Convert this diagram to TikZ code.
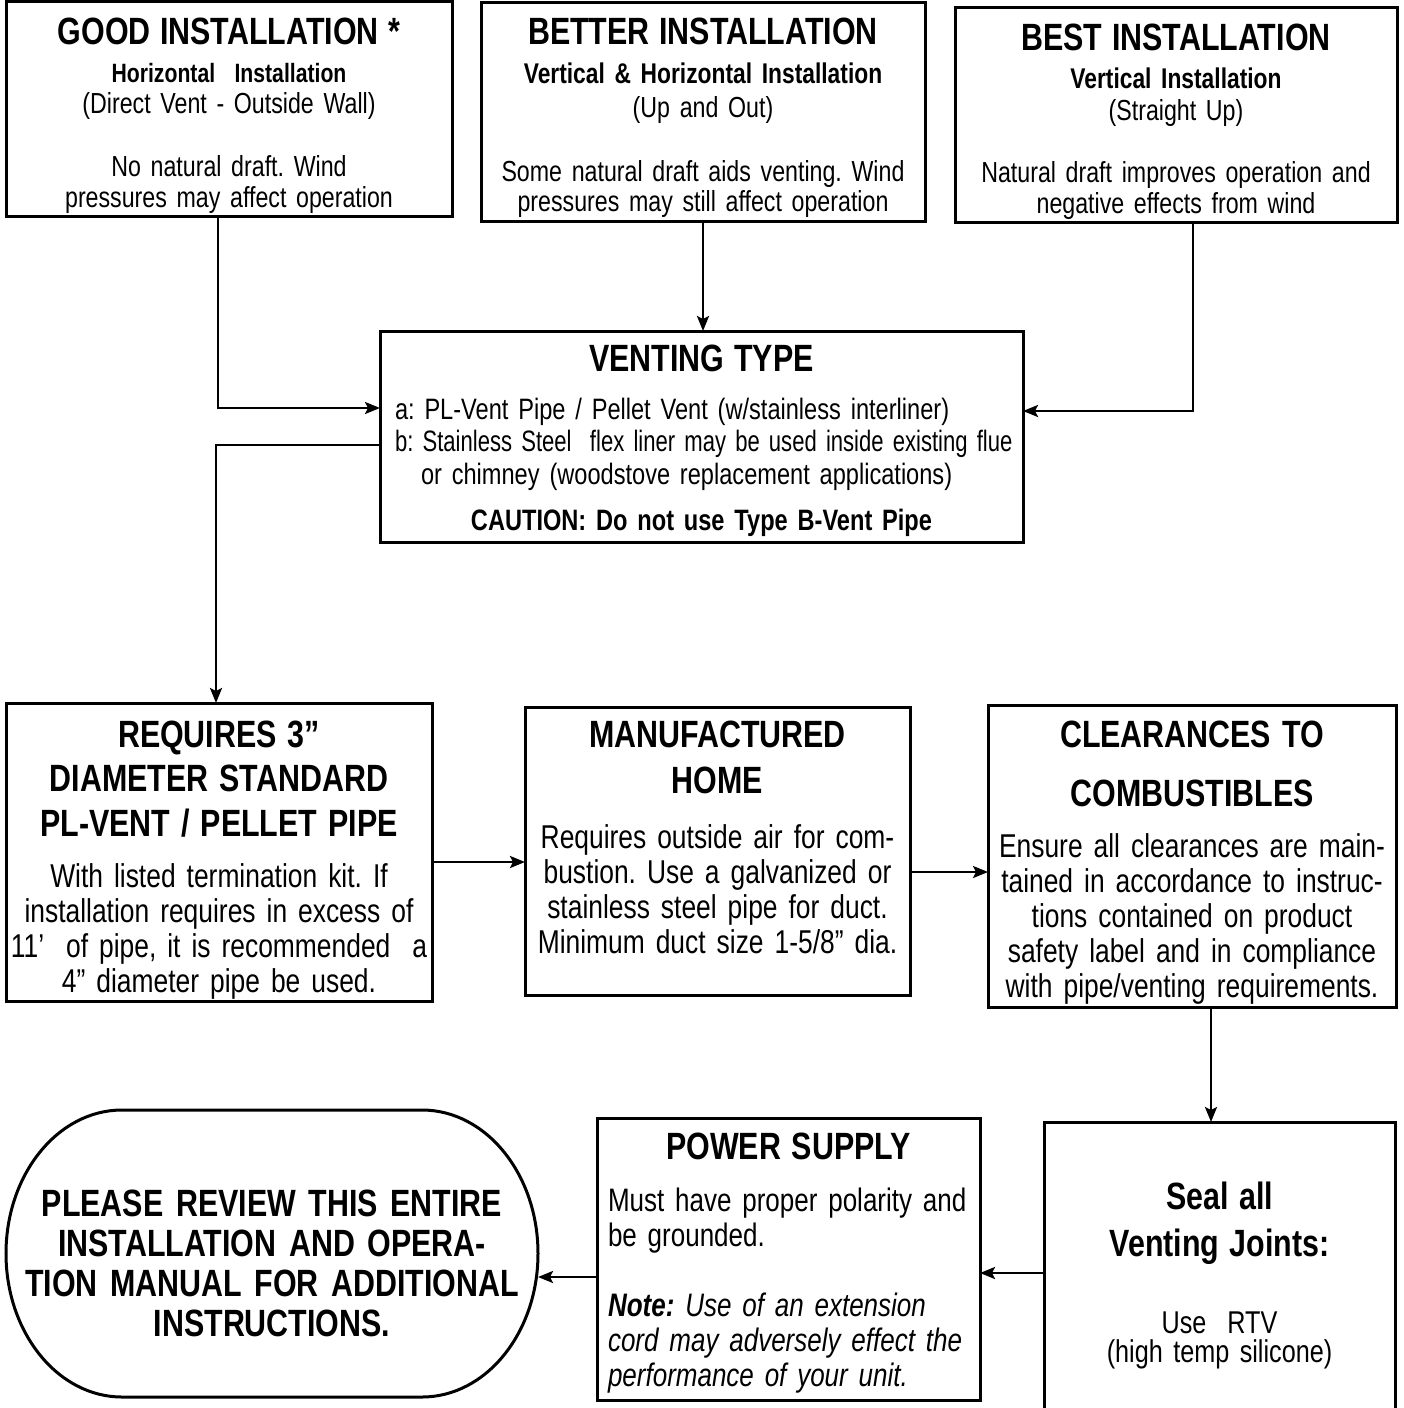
\documentclass[tikz,border=0pt]{standalone}
\usepackage{fontspec}
\setmainfont{Liberation Sans}[FakeStretch=0.8]
\usetikzlibrary{arrows.meta}
\frenchspacing
\newcommand\boxtitle{\fontsize{38}{40}\selectfont\bfseries}
\newcommand\boxsub{\fontsize{28.5}{31}\selectfont\bfseries}
\newcommand\bodyA{\fontsize{29}{31}\selectfont}
\newcommand\bodyB{\fontsize{33}{35}\selectfont}
\newcommand\midline[1]{\makebox[\hsize]{#1}}

\begin{document}
\begin{tikzpicture}[x=1pt,y=-1pt,
  box/.style={draw,line width=3pt,inner sep=0pt,outer sep=0pt,anchor=north west,align=center},
  flow/.style={line width=2.5pt,-{Stealth[length=15pt,width=12pt,inset=3pt]}}]
  \useasboundingbox (0,0) rectangle (1403,1408);

  % top row
  \node[box,text width=446pt,text height=43pt,text depth=172pt,font=\bodyA] (good) at (6,1) {%
    {\boxtitle GOOD INSTALLATION *}\\[7pt]
    {\fontsize{26.5}{31}\selectfont\bfseries Horizontal~ Installation}\\[1pt]
    (Direct Vent - Outside Wall)\\[31pt]
    No natural draft. Wind\\
    pressures may affect operation};

  \node[box,text width=444pt,text height=42pt,text depth=177pt,font=\bodyA] (better) at (481,2) {%
    {\boxtitle BETTER INSTALLATION}\\[8pt]
    {\boxsub Vertical \& Horizontal Installation}\\[3pt]
    (Up and Out)\\[33pt]
    Some natural draft aids venting. Wind\\
    pressures may still affect operation};

  \node[box,text width=442pt,text height=43pt,text depth=172pt,font=\bodyA] (best) at (955,7) {%
    {\boxtitle BEST INSTALLATION}\\[7pt]
    {\boxsub Vertical Installation}\\[1pt]
    (Straight Up)\\[31pt]
    Natural draft improves operation and\\
    negative effects from wind};

  % venting type
  \node[box,align=left,text width=643pt,text height=40pt,text depth=171pt,font=\fontsize{29.5}{32.5}\selectfont] (vent) at (380,331) {%
    \midline{\boxtitle VENTING TYPE}\\[15.5pt]
    \hspace*{15pt}\mbox{a: PL-Vent Pipe / Pellet Vent (w/stainless interliner)}\\
    \hspace*{15pt}\scalebox{0.935}[1]{b: Stainless Steel~ flex liner may be used inside existing flue}\\
    \hspace*{41pt}\mbox{or chimney (woodstove replacement applications)}\\[14pt]
    \midline{\bfseries CAUTION: Do not use Type B-Vent Pipe}};

  % middle row
  \node[box,text width=426pt,text height=44pt,text depth=254pt,font=\bodyB] (req) at (6,703) {%
    {\boxtitle REQUIRES 3”}\\[9pt]
    {\boxtitle DIAMETER STANDARD}\\[10pt]
    {\boxtitle PL-VENT / PELLET PIPE}\\[16pt]
    With listed termination kit. If\\
    installation requires in excess of\\
    11’~ of pipe, it is recommended~ a\\
    4” diameter pipe be used.};

  \node[box,text width=385pt,text height=40pt,text depth=248pt,font=\bodyB] (man) at (525,707) {%
    {\boxtitle MANUFACTURED}\\[11pt]
    {\boxtitle HOME}\\[20pt]
    Requires outside air for com-\\
    bustion. Use a galvanized or\\
    stainless steel pipe for duct.\\
    Minimum duct size 1-5/8” dia.};

  \node[box,text width=408pt,text height=42pt,text depth=260pt,font=\bodyB] (clr) at (988,705) {%
    {\boxtitle CLEARANCES TO}\\[24pt]
    {\boxtitle COMBUSTIBLES}\\[16pt]
    Ensure all clearances are main-\\
    tained in accordance to instruc-\\
    tions contained on product\\
    safety label and in compliance\\
    with pipe/venting requirements.};

  % bottom row
  \node[box,text width=351pt,text height=87pt,text depth=221pt,font=\fontsize{31.5}{29}\selectfont] (seal) at (1044,1122) {%
    {\boxtitle Seal all}\\[18pt]
    {\boxtitle Venting Joints:}\\[47pt]
    Use~ RTV\\
    (high temp silicone)};

  \node[box,align=left,text width=361pt,inner xsep=11pt,text height=41pt,text depth=241pt,font=\fontsize{32.5}{35}\selectfont] (power) at (597,1118) {%
    \midline{\boxtitle POWER SUPPLY}\\[17pt]
    \mbox{Must have proper polarity and}\\
    be grounded.\\[35pt]
    \mbox{\textbf{\textit{Note:}} \textit{Use of an extension}}\\
    \mbox{\textit{cord may adversely effect the}}\\
    \mbox{\textit{performance of your unit.}}};

  \node[align=center,inner sep=0pt,outer sep=0pt,anchor=north,text width=532pt,text height=106pt,text depth=181pt,font=\boxtitle] (please) at (272,1110) {%
    PLEASE REVIEW THIS ENTIRE\\
    INSTALLATION AND OPERA-\\
    TION MANUAL FOR ADDITIONAL\\
    INSTRUCTIONS.};
  \draw[line width=3pt] ([xshift=-150pt]please.north) -- ([xshift=150pt]please.north)
    arc[start angle=90,end angle=-90,x radius=116pt,y radius=143.5pt]
    -- ([xshift=-150pt]please.south)
    arc[start angle=270,end angle=90,x radius=116pt,y radius=143.5pt] -- cycle;

  % connectors
  \draw[flow] ([xshift=-11pt]good.south) |- ([yshift=28.5pt]vent.west);
  \draw[flow] (better.south) -- (better.south |- vent.north);
  \draw[flow] ([xshift=17pt]best.south) |- ([yshift=25.5pt]vent.east);
  \draw[flow] ([yshift=-8.5pt]vent.west) -| ([xshift=-3pt]req.north);
  \coordinate (rm) at ([yshift=-10pt]req.east);
  \draw[flow] (rm) -- (rm -| man.west);
  \coordinate (mc) at ([yshift=-21pt]man.east);
  \draw[flow] (mc) -- (mc -| clr.west);
  \coordinate (cs) at ([xshift=19pt]clr.south);
  \draw[flow] (cs) -- (cs |- seal.north);
  \coordinate (sp) at ([yshift=3pt]seal.west);
  \draw[flow] (sp) -- (sp -| power.east);
  \coordinate (pp) at ([yshift=-18pt]power.west);
  \draw[flow] (pp) -- (pp -| please.east);
\end{tikzpicture}
\end{document}
